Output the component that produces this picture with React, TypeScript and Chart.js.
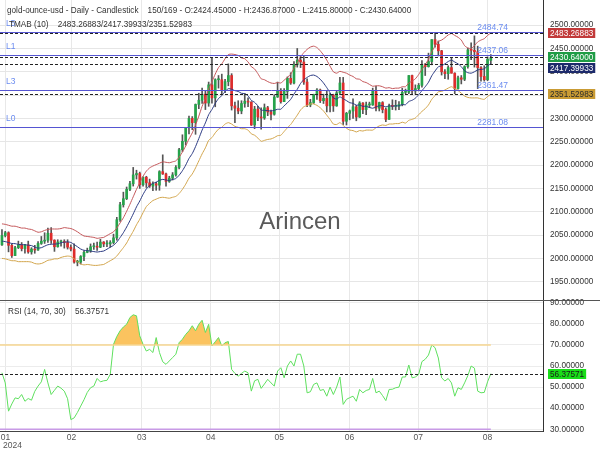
import React, { useEffect, useRef } from 'react';
import { Chart, registerables } from 'chart.js';

Chart.register(...registerables);

const FONT = '"Liberation Sans", Arial, sans-serif';

// ---- Daily candles (index 0 = first candle shown) ----
const opens = [
  2029, 2049, 2055, 2028, 2006, 2023, 2029, 2021, 2029, 2014,
  2020, 2018, 2032, 2037, 2039, 2054, 2039, 2025, 2035, 2035,
  2034, 2024, 2020, 1992, 1992, 2004, 2013, 2017, 2025, 2025,
  2024, 2035, 2031, 2031, 2034, 2044, 2083, 2115, 2128, 2148,
  2160, 2179, 2182, 2158, 2174, 2162, 2155, 2160, 2157, 2186,
  2181, 2165, 2172, 2179, 2195, 2233, 2251, 2280, 2300, 2291,
  2330, 2339, 2352, 2333, 2372, 2344, 2383, 2383, 2361, 2379,
  2392, 2327, 2322, 2316, 2332, 2337, 2335, 2286, 2320, 2303,
  2301, 2323, 2314, 2309, 2346, 2360, 2336, 2358, 2386, 2376,
  2415, 2425, 2421, 2378, 2329, 2334, 2351, 2361, 2338, 2343,
  2327, 2350, 2327, 2355, 2376, 2294, 2311, 2316, 2325, 2303,
  2333, 2319, 2329, 2329, 2360, 2322, 2334, 2319, 2298, 2327,
  2326, 2326, 2330, 2356, 2356, 2392, 2359, 2364, 2371, 2415,
  2411, 2422, 2469, 2459, 2445, 2400, 2396, 2409, 2397, 2364,
  2387, 2384, 2411, 2447, 2446, 2443, 2409, 2390, 2383, 2424.45,
];
const highs = [
  2062, 2058, 2057, 2031, 2026, 2037, 2034, 2030, 2037, 2023,
  2028, 2036, 2047, 2055, 2065, 2066, 2040, 2040, 2039, 2040,
  2040, 2029, 2031, 1996, 2006, 2016, 2022, 2031, 2033, 2035,
  2041, 2036, 2038, 2038, 2052, 2088, 2120, 2142, 2153, 2165,
  2195, 2189, 2185, 2175, 2176, 2170, 2164, 2163, 2188, 2222,
  2183, 2176, 2184, 2199, 2236, 2265, 2281, 2305, 2304, 2331,
  2354, 2365, 2359, 2378, 2431, 2385, 2392, 2395, 2384, 2417,
  2396, 2335, 2338, 2338, 2353, 2344, 2336, 2326, 2326, 2323,
  2331, 2326, 2318, 2351, 2378, 2364, 2364, 2389, 2398, 2422,
  2450, 2433, 2433, 2385, 2341, 2352, 2364, 2363, 2352, 2360,
  2354, 2352, 2358, 2388, 2388, 2313, 2318, 2342, 2328, 2336,
  2334, 2335, 2335, 2365, 2369, 2335, 2336, 2322, 2331, 2340,
  2339, 2336, 2365, 2363, 2392, 2393, 2372, 2375, 2424, 2418,
  2440, 2469, 2483, 2466, 2446, 2405, 2413, 2431, 2398, 2391,
  2392, 2413, 2451, 2462, 2477, 2455, 2411, 2413, 2432, 2436.87,
];
const lows = [
  2028, 2046, 2014, 2002, 2006, 2021, 2016, 2011, 2011, 2009,
  2011, 2017, 2030, 2032, 2034, 2032, 2015, 2024, 2026, 2022,
  2020, 2016, 1990, 1984, 1988, 1995, 2012, 2013, 2019, 2017,
  2023, 2025, 2025, 2024, 2031, 2039, 2079, 2110, 2126, 2145,
  2155, 2170, 2150, 2155, 2152, 2152, 2145, 2146, 2146, 2180,
  2155, 2163, 2168, 2176, 2192, 2229, 2243, 2267, 2276, 2266,
  2321, 2332, 2319, 2326, 2333, 2325, 2365, 2353, 2355, 2370,
  2318, 2291, 2310, 2310, 2324, 2325, 2285, 2278, 2295, 2277,
  2298, 2306, 2297, 2307, 2345, 2333, 2336, 2343, 2373, 2374,
  2410, 2409, 2373, 2325, 2325, 2332, 2341, 2334, 2332, 2314,
  2314, 2315, 2326, 2351, 2287, 2286, 2297, 2300, 2295, 2302,
  2310, 2308, 2323, 2328, 2316, 2316, 2312, 2293, 2298, 2319,
  2318, 2319, 2327, 2353, 2353, 2353, 2352, 2359, 2367, 2392,
  2410, 2415, 2453, 2434, 2393, 2385, 2384, 2397, 2353, 2363,
  2374, 2381, 2408, 2426, 2410, 2364, 2380, 2380, 2381, 2415.8,
];
const closes = [
  2049, 2055, 2028, 2006, 2023, 2029, 2021, 2029, 2014, 2020,
  2018, 2032, 2037, 2039, 2054, 2039, 2025, 2035, 2035, 2034,
  2024, 2020, 1992, 1992, 2004, 2013, 2017, 2025, 2025, 2024,
  2035, 2031, 2031, 2034, 2044, 2083, 2115, 2128, 2148, 2160,
  2179, 2182, 2158, 2174, 2162, 2155, 2160, 2157, 2186, 2181,
  2165, 2172, 2179, 2195, 2233, 2251, 2280, 2300, 2291, 2330,
  2339, 2352, 2333, 2372, 2344, 2383, 2383, 2361, 2379, 2392,
  2327, 2322, 2316, 2332, 2337, 2335, 2286, 2320, 2303, 2301,
  2323, 2314, 2309, 2346, 2360, 2336, 2358, 2386, 2376, 2415,
  2425, 2421, 2378, 2329, 2334, 2351, 2361, 2338, 2343, 2327,
  2350, 2327, 2355, 2376, 2294, 2311, 2316, 2325, 2303, 2333,
  2319, 2329, 2329, 2360, 2322, 2334, 2319, 2298, 2327, 2326,
  2326, 2330, 2356, 2356, 2392, 2359, 2364, 2371, 2415, 2411,
  2422, 2469, 2459, 2445, 2400, 2396, 2409, 2397, 2364, 2387,
  2384, 2411, 2447, 2446, 2443, 2409, 2390, 2383, 2427, 2430.64,
];

// ---- TMAB (10) bands ----
const tmabUpper = [
  2074, 2073, 2071, 2069, 2069, 2067, 2065, 2065, 2063, 2062,
  2059, 2056, 2057, 2060, 2062, 2063, 2063, 2063, 2064, 2066,
  2065, 2064, 2061, 2057, 2052, 2048, 2047, 2046, 2045, 2043,
  2044, 2045, 2049, 2053, 2057, 2065, 2076, 2087, 2101, 2116,
  2132, 2148, 2162, 2176, 2187, 2194, 2198, 2201, 2204, 2207,
  2206, 2205, 2207, 2209, 2217, 2228, 2241, 2256, 2269, 2286,
  2305, 2326, 2343, 2363, 2379, 2395, 2409, 2417, 2428, 2437,
  2438, 2437, 2435, 2430, 2428, 2421, 2411, 2406, 2396, 2385,
  2383, 2379, 2376, 2375, 2377, 2376, 2382, 2388, 2395, 2407,
  2419, 2432, 2441, 2448, 2453, 2455, 2452, 2445, 2436, 2425,
  2412, 2400, 2397, 2401, 2399, 2397, 2393, 2390, 2385, 2384,
  2379, 2377, 2373, 2369, 2370, 2370, 2368, 2365, 2366, 2364,
  2365, 2365, 2368, 2368, 2376, 2380, 2385, 2394, 2405, 2415,
  2427, 2443, 2455, 2465, 2468, 2473, 2479, 2482, 2478, 2474,
  2468, 2456, 2451, 2450, 2456, 2464, 2468, 2471, 2478, 2483.26883,
];
const tmabMid = [
  2037, 2036, 2034, 2032, 2031.6, 2030, 2029.4, 2029.3, 2028.3, 2027.4,
  2024.3, 2022, 2022.9, 2026.2, 2029.3, 2030.3, 2030.7, 2031.3, 2033.4, 2034.8,
  2035.4, 2034.2, 2029.7, 2025, 2020, 2017.4, 2016.6, 2015.6, 2014.6, 2013.6,
  2014.7, 2015.8, 2019.7, 2023.9, 2027.9, 2034.9, 2044.7, 2055, 2067.3, 2080.9,
  2095.3, 2110.4, 2123.1, 2137.1, 2148.9, 2156.1, 2160.6, 2163.5, 2167.3, 2169.4,
  2168, 2167, 2169.1, 2171.2, 2178.3, 2187.9, 2199.9, 2214.2, 2224.7, 2239.6,
  2257, 2275, 2290.4, 2308.1, 2319.2, 2332.4, 2342.7, 2348.8, 2357.6, 2363.8,
  2362.6, 2359.6, 2357.9, 2353.9, 2353.2, 2348.4, 2338.7, 2334.6, 2327, 2317.9,
  2317.5, 2316.7, 2316, 2317.4, 2319.7, 2319.8, 2327, 2333.6, 2340.9, 2352.3,
  2362.5, 2375, 2383, 2388, 2392, 2393, 2390, 2384, 2376, 2366,
  2355, 2344, 2341.5, 2346.2, 2342.2, 2338.2, 2333.7, 2332.4, 2328.4, 2329,
  2325.9, 2326.1, 2323.5, 2321.9, 2324.7, 2327, 2327.3, 2324.6, 2327, 2326.3,
  2327, 2327.1, 2329.8, 2329.4, 2336.4, 2338.9, 2343.4, 2350.7, 2359.5, 2368,
  2377.6, 2391.5, 2401.8, 2410.7, 2413, 2417, 2422, 2425, 2421, 2417,
  2411, 2402, 2398, 2397, 2400, 2404, 2405, 2406.4, 2412.7, 2417.39933,
];
const tmabLower = [
  2000, 1999, 1997, 1995, 1995, 1993, 1993, 1993, 1993, 1992,
  1989, 1988, 1989, 1992, 1996, 1997, 1999, 1999, 2002, 2004,
  2005, 2004, 1999, 1993, 1988, 1986, 1987, 1986, 1985, 1985,
  1986, 1987, 1991, 1995, 1999, 2005, 2014, 2023, 2033, 2046,
  2058, 2072, 2084, 2098, 2111, 2118, 2124, 2127, 2130, 2131,
  2130, 2129, 2131, 2133, 2139, 2148, 2159, 2172, 2181, 2194,
  2209, 2224, 2237, 2253, 2259, 2269, 2277, 2281, 2288, 2291,
  2288, 2283, 2281, 2278, 2278, 2275, 2267, 2264, 2258, 2251,
  2253, 2255, 2256, 2259, 2263, 2264, 2272, 2280, 2287, 2297,
  2307, 2318, 2325, 2328, 2331, 2331, 2328, 2323, 2316, 2307,
  2298, 2288, 2287, 2291, 2285, 2279, 2275, 2274, 2271, 2274,
  2273, 2275, 2275, 2275, 2280, 2284, 2286, 2285, 2288, 2288,
  2289, 2289, 2292, 2290, 2296, 2298, 2301, 2308, 2315, 2321,
  2329, 2341, 2349, 2357, 2358, 2361, 2365, 2368, 2364, 2360,
  2354, 2348, 2345, 2344, 2344, 2344, 2342, 2341, 2347, 2351.52983,
];

// ---- RSI (14, 70, 30) ----
const rsiValues = [
  56.8, 52, 38.6, 42, 44.9, 44.5, 46.5, 43.3, 44.6, 43.8,
  48, 50.5, 52.5, 58.4, 52, 46.5, 48.5, 50.5, 49.5, 48.1,
  44.5, 34.6, 35.4, 38, 41, 44, 47.5, 49.7, 50.5, 54.1,
  52.5, 53, 53.2, 56, 70.3, 74, 76.7, 78.5, 79.8, 83,
  84.3, 83.8, 74.3, 70.3, 67.1, 67.9, 66.4, 73.5, 66.4, 62,
  60.8, 62.4, 64, 65.6, 71.1, 72.7, 75, 76.7, 79.1, 76.7,
  79.8, 81.7, 75.9, 79.8, 69.5, 71.5, 73.5, 69.5, 71.1, 71.6,
  58.4, 56.5, 55.2, 56.5, 57.6, 56.8, 48.1, 53, 53.7, 49.4,
  51.5, 53.7, 52, 50.5, 57.6, 59.2, 54.4, 60, 62.4, 60,
  65.6, 65.6, 60, 47.3, 47.8, 51.3, 52, 48.4, 48.9, 45.7,
  50, 46.5, 50, 54.8, 41.8, 44.2, 45, 45.7, 43.3, 48.9,
  47.3, 48.4, 48.9, 54.1, 47.3, 48.1, 46, 43.6, 48.9, 49,
  49.7, 50, 54.8, 54.8, 60.5, 54.4, 54.8, 56, 62.1, 63.2,
  65.2, 70, 68.7, 63.8, 54.4, 52.9, 54.1, 52, 45.7, 49.7,
  48.9, 52, 55.5, 60, 59, 48.1, 47.3, 47.5, 52.5, 56.37571,
];
const rsiUpperLevel = 70;
const rsiLowerLevel = 30;

// ---- Axis ticks / labels ----
const monthTickIndex = [1.1, 21.2, 42.6, 63.6, 84.5, 105.9, 126.9, 148.0];
const monthLabels = ['01', '02', '03', '04', '05', '06', '07', '08'];
const yearLabel = '2024';
const priceTicks = [1950, 2000, 2050, 2100, 2150, 2200, 2250, 2300, 2350, 2400, 2450, 2500];
const rsiTicks = [30, 40, 50, 60, 70, 80, 90];

// ---- Horizontal levels ----
const levelNames = ['L5', 'L1', 'L3', 'L0'];
const levelValues = [2484.74, 2437.06, 2361.47, 2281.08];

const symbolName = 'gold-ounce-usd';
const titleCount = '150/169';
const watermark = 'Arincen';

export default function App() {
  const ref = useRef<HTMLCanvasElement>(null);

  useEffect(() => {
    const canvas = ref.current;
    if (!canvas) return;
    const last = closes.length - 1;

    const wickData = closes.map((_, i) => ({ x: i, y: [lows[i], highs[i]] }));
    const upData: any[] = [];
    const downData: any[] = [];
    closes.forEach((c, i) => {
      const o = opens[i];
      (c >= o ? upData : downData).push({ x: i, y: [o, c] });
    });
    const toPts = (arr: number[]) => arr.map((v, i) => ({ x: i, y: v }));

    const xMin = -0.6;
    const xMax = 164.9;

    const overlay = {
      id: 'overlay',
      beforeDatasetsDraw(chart: any) {
        const ctx = chart.ctx;
        ctx.save();
        ctx.font = `24px ${FONT}`;
        ctx.fillStyle = '#5a5a5a';
        ctx.textAlign = 'center';
        ctx.textBaseline = 'middle';
        ctx.fillText(watermark, chart.width / 2, 222);
        ctx.restore();
      },
      afterDatasetsDraw(chart: any) {
        const ctx = chart.ctx;
        const a = chart.chartArea;
        const ys = chart.scales.y;
        const yr = chart.scales.yRsi;
        const hline = (x1: number, x2: number, y: number) => {
          ctx.beginPath();
          ctx.moveTo(x1, y);
          ctx.lineTo(x2, y);
          ctx.stroke();
        };
        ctx.save();
        ctx.lineWidth = 1;

        // level lines
        ctx.setLineDash([]);
        ctx.strokeStyle = '#5555d2';
        ctx.font = `8.5px ${FONT}`;
        levelValues.forEach((v, k) => {
          const py = Math.round(ys.getPixelForValue(v)) + 0.5;
          hline(a.left, a.right, py);
          ctx.fillStyle = '#6b8cf0';
          ctx.textBaseline = 'bottom';
          ctx.textAlign = 'left';
          ctx.fillText(levelNames[k], 6, py - 5);
          ctx.textAlign = 'right';
          ctx.fillText(v.toFixed(2), 508, py - 1);
        });

        // dashed last-value lines
        ctx.setLineDash([3, 2]);
        ctx.strokeStyle = '#222';
        [tmabUpper[last], closes[last], tmabMid[last], tmabLower[last]].forEach((v) => {
          hline(a.left, a.right, Math.round(ys.getPixelForValue(v)) + 0.5);
        });
        hline(a.left, a.right, Math.round(yr.getPixelForValue(rsiValues[last])) + 0.5);
        ctx.setLineDash([]);

        // pane separator
        ctx.strokeStyle = '#555';
        hline(0, chart.width, Math.round(yr.top) + 0.5);

        // texts
        ctx.fillStyle = '#333';
        ctx.font = `8.2px ${FONT}`;
        ctx.textAlign = 'left';
        ctx.textBaseline = 'middle';
        const title =
          `${symbolName} - Daily - Candlestick    ${titleCount} - O:${opens[last].toFixed(5)} - H:${highs[last].toFixed(5)}` +
          ` - L:${lows[last].toFixed(5)} - C:${closes[last].toFixed(5)}`;
        ctx.fillText(title, 7, 10.5);
        ctx.fillText(
          `TMAB (10)    ${tmabUpper[last].toFixed(5)}/${tmabMid[last].toFixed(5)}/${tmabLower[last].toFixed(5)}`,
          9,
          25
        );
        ctx.fillText(`RSI (14, 70, 30)    ${rsiValues[last].toFixed(5)}`, 8, Math.round(yr.top) + 11.5);
        ctx.restore();
      },
      afterDraw(chart: any) {
        const ctx = chart.ctx;
        const ys = chart.scales.y;
        const yr = chart.scales.yRsi;
        ctx.save();
        // year under first month label
        ctx.font = `8.5px ${FONT}`;
        ctx.fillStyle = '#555';
        ctx.textAlign = 'left';
        ctx.textBaseline = 'middle';
        ctx.fillText(yearLabel, 3, 446);

        ctx.font = `8.2px ${FONT}`;
        const h = 10;
        const badges = [
          { v: tmabUpper[last], bg: '#c23a3a', fg: '#ffffff', s: ys },
          { v: closes[last], bg: '#1f9c45', fg: '#ffffff', s: ys },
          { v: tmabMid[last], bg: '#1d2a6b', fg: '#ffffff', s: ys },
          { v: tmabLower[last], bg: '#c99b34', fg: '#2a2a2a', s: ys },
        ].map((b) => ({ ...b, py: b.s.getPixelForValue(b.v) }));
        badges.sort((p, q) => p.py - q.py);
        for (let k = 1; k < badges.length; k++) {
          if (badges[k].py < badges[k - 1].py + h + 1) badges[k].py = badges[k - 1].py + h + 1;
        }
        badges.push({ v: rsiValues[last], bg: '#19dd19', fg: '#1a1a1a', s: yr, py: yr.getPixelForValue(rsiValues[last]) });
        badges.forEach((b) => {
          const txt = b.v.toFixed(5);
          const w = ctx.measureText(txt).width + 4;
          const top = Math.round(b.py - h / 2);
          ctx.fillStyle = b.bg;
          ctx.fillRect(548, top, w, h);
          ctx.fillStyle = b.fg;
          ctx.fillText(txt, 550, top + h / 2 + 0.5);
        });
        ctx.restore();
      },
    };

    const chart = new Chart(canvas, {
      type: 'line',
      data: {
        datasets: [
          {
            type: 'line',
            data: toPts(tmabUpper),
            borderColor: '#c4575a',
            borderWidth: 1,
            pointRadius: 0,
            tension: 0.2,
            yAxisID: 'y',
            order: 1,
          },
          {
            type: 'line',
            data: toPts(tmabMid),
            borderColor: '#2b3a82',
            borderWidth: 1,
            pointRadius: 0,
            tension: 0.2,
            yAxisID: 'y',
            order: 1,
          },
          {
            type: 'line',
            data: toPts(tmabLower),
            borderColor: '#d2a54c',
            borderWidth: 1,
            pointRadius: 0,
            tension: 0.2,
            yAxisID: 'y',
            order: 1,
          },
          {
            type: 'bar',
            data: upData,
            backgroundColor: '#25a34a',
            barThickness: 2,
            minBarLength: 1,
            grouped: false,
            borderWidth: 0,
            yAxisID: 'y',
            order: 2,
          },
          {
            type: 'bar',
            data: downData,
            backgroundColor: '#de2c2c',
            barThickness: 2,
            minBarLength: 1,
            grouped: false,
            borderWidth: 0,
            yAxisID: 'y',
            order: 2,
          },
          {
            type: 'bar',
            data: wickData,
            backgroundColor: '#555555',
            barThickness: 1,
            grouped: false,
            borderWidth: 0,
            yAxisID: 'y',
            order: 3,
          },
          {
            type: 'line',
            data: [
              { x: xMin, y: rsiUpperLevel },
              { x: last, y: rsiUpperLevel },
            ],
            borderColor: '#f6d690',
            borderWidth: 1.5,
            pointRadius: 0,
            yAxisID: 'yRsi',
            order: 1,
          },
          {
            type: 'line',
            data: [
              { x: xMin, y: rsiLowerLevel },
              { x: last, y: rsiLowerLevel },
            ],
            borderColor: '#c89ae6',
            borderWidth: 1.5,
            pointRadius: 0,
            yAxisID: 'yRsi',
            order: 1,
          },
          {
            type: 'line',
            data: toPts(rsiValues),
            borderColor: '#5fe05f',
            borderWidth: 1,
            pointRadius: 0,
            yAxisID: 'yRsi',
            fill: { target: { value: rsiUpperLevel }, above: '#fbc35f', below: 'rgba(0,0,0,0)' },
            order: 2,
          },
        ] as any,
      },
      options: {
        responsive: false,
        devicePixelRatio: 1,
        animation: false,
        events: [],
        layout: { padding: 0 },
        plugins: {
          legend: { display: false },
          title: { display: false },
          tooltip: { enabled: false },
        },
        scales: {
          x: {
            type: 'linear',
            min: xMin,
            max: xMax,
            position: 'bottom',
            offset: false,
            grid: { color: '#e8e8e8', drawTicks: false, offset: false },
            border: { display: true, color: '#444' },
            ticks: {
              autoSkip: false,
              maxRotation: 0,
              minRotation: 0,
              padding: 2,
              color: '#555',
              font: { size: 8.5, family: FONT },
              callback: (_v: any, idx: number) => monthLabels[idx],
            },
            afterBuildTicks: (s: any) => {
              s.ticks = monthTickIndex.map((v) => ({ value: v }));
            },
            afterFit: (s: any) => {
              s.height = 19;
              s.paddingLeft = 0;
              s.paddingRight = 0;
            },
          },
          y: {
            type: 'linear',
            position: 'right',
            stack: 'panes',
            stackWeight: 300,
            min: 1910.8,
            max: 2553.9,
            grid: { color: '#e6e6e6', drawTicks: false },
            border: { display: true, color: '#333' },
            ticks: {
              autoSkip: false,
              padding: 7,
              color: '#333',
              font: { size: 8.2, family: FONT },
              callback: (v: any) => Number(v).toFixed(5),
            },
            afterBuildTicks: (s: any) => {
              s.ticks = priceTicks.map((v) => ({ value: v }));
            },
            afterFit: (s: any) => {
              s.width = 57;
              s.paddingTop = 0;
              s.paddingBottom = 0;
            },
          },
          yRsi: {
            type: 'linear',
            position: 'right',
            stack: 'panes',
            stackWeight: 131,
            min: 29.2,
            max: 91.3,
            grid: { color: '#ececec', drawTicks: false },
            border: { display: true, color: '#333' },
            ticks: {
              autoSkip: false,
              padding: 7,
              color: '#333',
              font: { size: 8.2, family: FONT },
              callback: (v: any) => Number(v).toFixed(5),
            },
            afterBuildTicks: (s: any) => {
              s.ticks = rsiTicks.map((v) => ({ value: v }));
            },
            afterFit: (s: any) => {
              s.width = 57;
              s.paddingTop = 0;
              s.paddingBottom = 0;
            },
          },
        },
      } as any,
      plugins: [overlay],
    });

    return () => chart.destroy();
  }, []);

  return (
    <div style={{ position: 'absolute', left: 0, top: 0, width: 600, height: 450, background: '#fff' }}>
      <canvas ref={ref} width={600} height={450} style={{ display: 'block' }} />
    </div>
  );
}
